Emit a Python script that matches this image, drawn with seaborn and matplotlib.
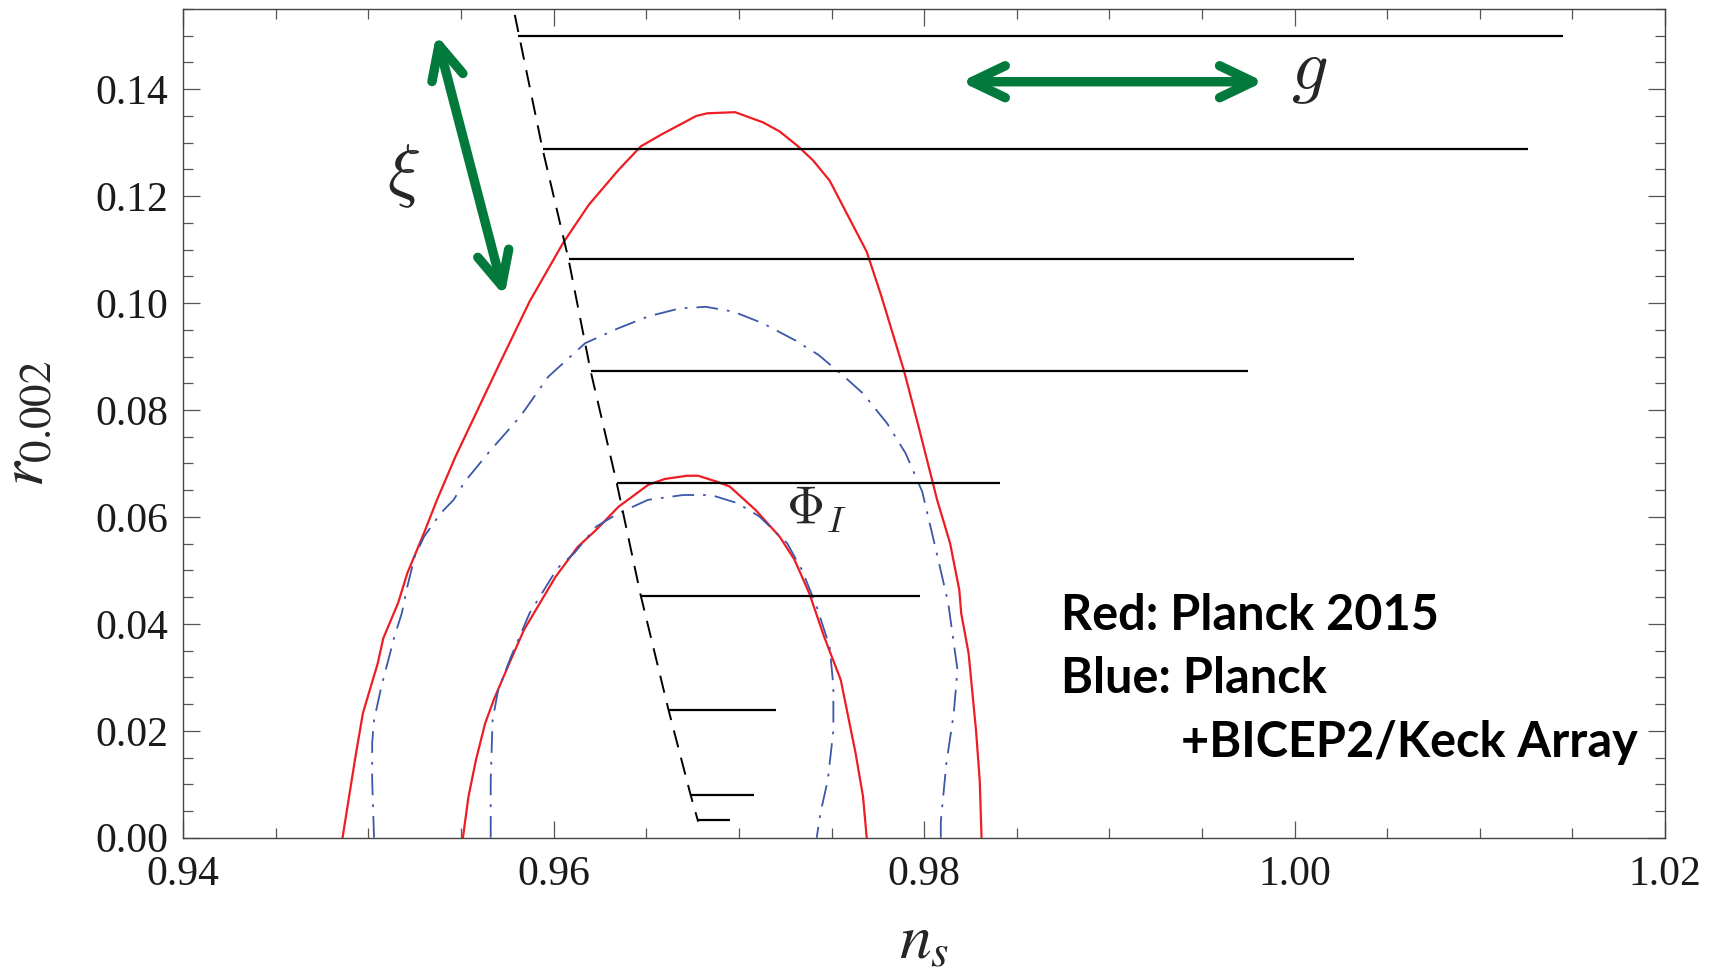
import matplotlib
matplotlib.use("Agg")
import matplotlib.pyplot as plt
import seaborn as sns
from matplotlib.patches import FancyArrowPatch
from matplotlib.ticker import MultipleLocator, FormatStrFormatter

# Planck 2015 contours (red, solid)
red_outer_ns = [0.9486, 0.9493, 0.9497, 0.9505, 0.9508, 0.9516, 0.9521, 0.9530, 0.9537,
                0.9547, 0.9570, 0.9587, 0.9605, 0.9619, 0.9635, 0.9647, 0.9658, 0.9677,
                0.9683, 0.9698, 0.9713, 0.9722, 0.9732, 0.9740, 0.9749, 0.9769, 0.9777,
                0.9789, 0.9797, 0.9807, 0.9814, 0.9819, 0.9820, 0.9824, 0.9828, 0.9830, 0.9831]
red_outer_r = [0.0, 0.0152, 0.0233, 0.0326, 0.0373, 0.0439, 0.0495, 0.0570, 0.0632,
               0.0713, 0.0881, 0.1003, 0.1112, 0.1184, 0.1249, 0.1293, 0.1315, 0.1350,
               0.1355, 0.1357, 0.1338, 0.1321, 0.1293, 0.1267, 0.1229, 0.1096, 0.1012,
               0.0875, 0.0769, 0.0632, 0.0551, 0.0463, 0.0420, 0.0345, 0.0201, 0.0108, 0.0]

red_inner_ns = [0.9551, 0.9554, 0.9558, 0.9563, 0.9568, 0.9576, 0.9584, 0.9601, 0.9613,
                0.9623, 0.9635, 0.9651, 0.9660, 0.9672, 0.9678, 0.9688, 0.9695, 0.9709,
                0.9722, 0.9730, 0.9738, 0.9746, 0.9755, 0.9763, 0.9767, 0.9769]
red_inner_r = [0.0, 0.0077, 0.0145, 0.0214, 0.0261, 0.0326, 0.0389, 0.0488, 0.0544,
               0.0576, 0.0619, 0.0660, 0.0671, 0.0677, 0.0677, 0.0666, 0.0657, 0.0613,
               0.0563, 0.0520, 0.0457, 0.0376, 0.0295, 0.0158, 0.0077, 0.0]

# Planck + BICEP2/Keck Array contours (blue, dash-dot)
blue_outer_ns = [0.9503, 0.9502, 0.9502, 0.9503, 0.9507, 0.9510, 0.9514, 0.9518, 0.9521,
                 0.9525, 0.9530, 0.9539, 0.9546, 0.9552, 0.9566, 0.9582, 0.9597, 0.9617,
                 0.9635, 0.9651, 0.9668, 0.9682, 0.9697, 0.9713, 0.9730, 0.9743, 0.9757,
                 0.9767, 0.9780, 0.9790, 0.9799, 0.9806, 0.9813, 0.9818, 0.9816, 0.9812,
                 0.9809, 0.9809]
blue_outer_r = [0.0, 0.0108, 0.0177, 0.0220, 0.0283, 0.0323, 0.0376, 0.0420, 0.0470,
                0.0526, 0.0563, 0.0607, 0.0632, 0.0666, 0.0725, 0.0788, 0.0862, 0.0925,
                0.0953, 0.0975, 0.0990, 0.0993, 0.0984, 0.0962, 0.0931, 0.0903, 0.0862,
                0.0831, 0.0775, 0.0719, 0.0647, 0.0544, 0.0439, 0.0314, 0.0233, 0.0139,
                0.0030, 0.0]

blue_inner_ns = [0.9566, 0.9566, 0.9567, 0.9570, 0.9577, 0.9587, 0.9602, 0.9611, 0.9623,
                 0.9635, 0.9651, 0.9670, 0.9685, 0.9699, 0.9711, 0.9726, 0.9734, 0.9742,
                 0.9749, 0.9751, 0.9751, 0.9748, 0.9744, 0.9742]
blue_inner_r = [0.0, 0.0108, 0.0220, 0.0276, 0.0339, 0.0420, 0.0504, 0.0532, 0.0582,
                0.0607, 0.0632, 0.0641, 0.0641, 0.0626, 0.0601, 0.0551, 0.0501, 0.0432,
                0.0357, 0.0283, 0.0201, 0.0108, 0.0046, 0.0]

# model predictions: lines of constant xi, g increasing to the right
line_r = [0.1500, 0.1288, 0.1082, 0.0872, 0.0664, 0.0453, 0.0239, 0.0079, 0.0034]
line_ns_start = [0.9581, 0.9594, 0.9608, 0.9620, 0.9634, 0.9647, 0.9662, 0.9674, 0.9678]
line_ns_end = [1.0145, 1.0126, 1.0032, 0.9975, 0.9841, 0.9798, 0.9720, 0.9708, 0.9695]

# g -> 0 boundary (black dashed)
dashed_ns = [0.9579, 0.9594, 0.9608, 0.9620, 0.9634, 0.9647, 0.9662, 0.9674, 0.9678]
dashed_r = [0.1539, 0.1288, 0.1082, 0.0872, 0.0664, 0.0453, 0.0239, 0.0079, 0.0030]

sns.set_style("ticks")
plt.rcParams["font.family"] = ["Liberation Serif", "DejaVu Serif"]
plt.rcParams["mathtext.fontset"] = "stix"

fig = plt.figure(figsize=(17.19, 9.69), dpi=100)
ax = fig.add_axes([0.1066, 0.1355, 0.8620, 0.8552])

red = "#EE1D23"
blue = "#3A57A8"
green = "#017A3C"

sns.lineplot(x=red_outer_ns, y=red_outer_r, sort=False, estimator=None, color=red, lw=1.6, ax=ax)
sns.lineplot(x=red_inner_ns, y=red_inner_r, sort=False, estimator=None, color=red, lw=1.6, ax=ax)
sns.lineplot(x=blue_outer_ns, y=blue_outer_r, sort=False, estimator=None, color=blue, lw=1.3,
             linestyle=(0, (12, 5, 1.5, 5)), ax=ax)
sns.lineplot(x=blue_inner_ns, y=blue_inner_r, sort=False, estimator=None, color=blue, lw=1.3,
             linestyle=(0, (12, 5, 1.5, 5)), ax=ax)
sns.lineplot(x=dashed_ns, y=dashed_r, sort=False, estimator=None, color="black", lw=1.4,
             linestyle=(0, (9, 5.5)), ax=ax)
ax.hlines(line_r, line_ns_start, line_ns_end, colors="black", lw=1.6)

# green arrows
for pa, pb in [((0.95366, 0.1502), (0.95734, 0.1013)), ((0.98199, 0.1414), (0.99834, 0.1414))]:
    ax.add_patch(FancyArrowPatch(pa, pb, arrowstyle="<->,head_length=2.4,head_width=1.15",
                                 mutation_scale=10, lw=6.8, color=green, shrinkA=0, shrinkB=0,
                                 capstyle="round", joinstyle="round"))

ax.text(0.9519, 0.1237, r"$\xi$", fontsize=50, ha="center", va="center", math_fontfamily="cm")
ax.text(1.0008, 0.1430, r"$g$", fontsize=52, ha="center", va="center", math_fontfamily="cm")
ax.text(0.9742, 0.0613, r"$\Phi_I$", fontsize=38, ha="center", va="center", math_fontfamily="cm")

bold = dict(family=["Lato", "DejaVu Sans"], fontweight="bold", fontsize=35, va="baseline",
            color="black")
ax.text(0.98741, 0.03886, "Red: Planck 2015", **bold)
ax.text(0.98741, 0.02702, "Blue: Planck", **bold)
ax.text(0.99387, 0.01515, "+BICEP2/Keck Array", **bold)

ax.set_xlim(0.94, 1.02)
ax.set_ylim(0, 0.155)
ax.xaxis.set_major_locator(MultipleLocator(0.02))
ax.xaxis.set_minor_locator(MultipleLocator(0.005))
ax.yaxis.set_major_locator(MultipleLocator(0.02))
ax.yaxis.set_minor_locator(MultipleLocator(0.005))
ax.xaxis.set_major_formatter(FormatStrFormatter("%.2f"))
ax.yaxis.set_major_formatter(FormatStrFormatter("%.2f"))
ax.tick_params(which="both", direction="in", top=True, right=True, color="#555555", width=0.9,
               labelsize=30, labelcolor="#1a1a1a")
ax.tick_params(which="major", length=12)
ax.tick_params(which="minor", length=7.5)
ax.tick_params(axis="x", pad=13)
ax.tick_params(axis="y", pad=11)
for s in ax.spines.values():
    s.set_color("#444444")
    s.set_linewidth(1.0)

ax.set_xlabel(r"$n_s$", fontsize=46, va="baseline")
ax.xaxis.set_label_coords(0.5, -0.145)
ax.set_ylabel(r"$r_{0.002}$", fontsize=46, va="baseline")
ax.yaxis.set_label_coords(-0.0947, 0.5)

fig.savefig("out.png", dpi=100)
